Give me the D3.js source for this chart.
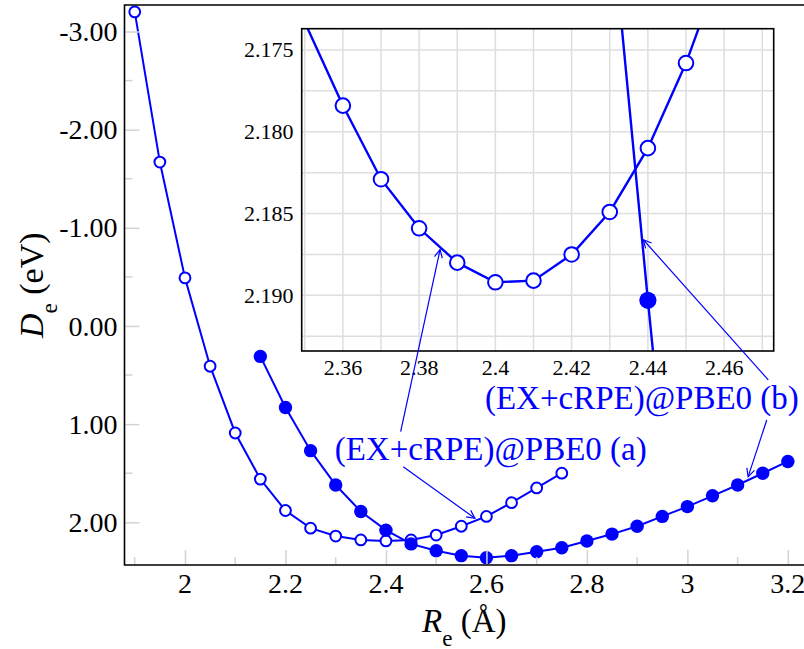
<!DOCTYPE html>
<html><head><meta charset="utf-8">
<style>
body { margin: 0; background: #fff; }
</style>
</head><body>
<svg width="804" height="649"></svg>
<script src="https://cdn.jsdelivr.net/npm/d3@7/dist/d3.min.js"></script>
<script>

// main panel: (EX+cRPE)@PBE0 (a) open, (b) filled
var rA = [1.90, 1.95, 2.00, 2.05, 2.10, 2.15, 2.20, 2.25, 2.30, 2.35, 2.40, 2.45, 2.50, 2.55, 2.60, 2.65, 2.70, 2.75];
var deA = [-3.20, -1.67, -0.49, 0.41, 1.09, 1.56, 1.88, 2.06, 2.14, 2.18, 2.19, 2.18, 2.13, 2.04, 1.94, 1.80, 1.65, 1.50];

var rB = [2.15, 2.20, 2.25, 2.30, 2.35, 2.40, 2.45, 2.50, 2.55, 2.60, 2.65, 2.70, 2.75, 2.80, 2.85, 2.90, 2.95, 3.00, 3.05, 3.10, 3.15, 3.20];
var deB = [0.31, 0.83, 1.27, 1.62, 1.89, 2.08, 2.22, 2.29, 2.34, 2.36, 2.34, 2.30, 2.26, 2.19, 2.12, 2.04, 1.94, 1.84, 1.73, 1.62, 1.50, 1.38];

// inset (zoom around the minimum)
var zrA = [2.35, 2.36, 2.37, 2.38, 2.39, 2.40, 2.41, 2.42, 2.43, 2.44, 2.45, 2.46];
var zdeA = [2.1733, 2.1784, 2.1829, 2.1859, 2.1880, 2.1892, 2.1891, 2.1875, 2.1849, 2.1810, 2.1758, 2.1694];
var zrB = [2.43, 2.44, 2.45];
var zdeB = [2.1659, 2.1903, 2.2136];

var xTicks = [2, 2.2, 2.4, 2.6, 2.8, 3, 3.2];
var yTicks = [-3, -2, -1, 0, 1, 2];
var zxTicks = [2.36, 2.38, 2.40, 2.42, 2.44, 2.46];
var zyTicks = [2.175, 2.180, 2.185, 2.190];

var labels = ["(EX+cRPE)@PBE0 (a)", "(EX+cRPE)@PBE0 (b)"];

var blue = "#0000ff", tickGray = "#d4d4d4", gridGray = "#dedede";
var serif = "'Liberation Serif'";

var svg = d3.select("svg");

var x = d3.scaleLinear().domain([1.8796, 3.26]).range([124.5, 818]);
var y = d3.scaleLinear().domain([-3.27, 2.435]).range([5, 565]);

var zx = d3.scaleLinear().domain([2.3492, 2.473]).range([301.7, 773.7]);
var zy = d3.scaleLinear().domain([2.1737, 2.1934]).range([28.7, 351]);

function series(g, xs, ys, sx, sy, filled, r, lw) {
  var pts = xs.map(function(d, i) { return [d, ys[i]]; });
  g.append("path")
      .datum(pts)
      .attr("fill", "none")
      .attr("stroke", blue)
      .attr("stroke-width", lw)
      .attr("d", d3.line().x(function(d) { return sx(d[0]); }).y(function(d) { return sy(d[1]); }));
  var dx = sx.domain(), dy = sy.domain();
  g.selectAll(null)
      .data(pts.filter(function(d) { return d[0] >= dx[0] && d[0] <= dx[1] && d[1] >= dy[0] && d[1] <= dy[1]; }))
    .enter().append("circle")
      .attr("cx", function(d) { return sx(d[0]); })
      .attr("cy", function(d) { return sy(d[1]); })
      .attr("r", r)
      .attr("fill", filled ? blue : "#fff")
      .attr("stroke", blue)
      .attr("stroke-width", filled ? 0 : 2);
}

// ---- main panel
var main = svg.append("g");
series(main, rA, deA, x, y, false, 5.4, 2);
series(main, rB, deB, x, y, true, 6.7, 2);

// inward ticks drawn over the data
var ax = svg.append("g").attr("transform", "translate(0,565)")
    .call(d3.axisBottom(x).tickValues(xTicks).tickSize(0).tickPadding(0).tickFormat(d3.format("")));
ax.select(".domain").remove();
ax.selectAll("text").remove();
ax.selectAll(".tick line").attr("y2", -15).attr("stroke", tickGray).attr("stroke-width", 1.5);
svg.append("g").selectAll("line").data(d3.range(1.9, 3.26, 0.2))
  .enter().append("line")
    .attr("x1", function(d) { return x(d); }).attr("x2", function(d) { return x(d); })
    .attr("y1", 565).attr("y2", 557)
    .attr("stroke", tickGray).attr("stroke-width", 1.5);

var ay = svg.append("g").attr("transform", "translate(124.5,0)")
    .call(d3.axisLeft(y).tickValues(yTicks).tickSize(0));
ay.select(".domain").remove();
ay.selectAll("text").remove();
ay.selectAll(".tick line").attr("x2", 15).attr("stroke", tickGray).attr("stroke-width", 1.5);
svg.append("g").selectAll("line").data([-2.5, -1.5, -0.5, 0.5, 1.5])
  .enter().append("line")
    .attr("x1", 124.5).attr("x2", 132.5)
    .attr("y1", function(d) { return y(d); }).attr("y2", function(d) { return y(d); })
    .attr("stroke", tickGray).attr("stroke-width", 1.5);

// frame
svg.append("path")
    .attr("d", "M818,5H124.5V565H818")
    .attr("fill", "none").attr("stroke", "#000").attr("stroke-width", 1.6);

// tick labels
svg.append("g").selectAll("text").data(xTicks).enter().append("text")
    .attr("x", function(d) { return x(d); }).attr("y", 593)
    .attr("text-anchor", "middle").attr("font-size", 28)
    .style("font-family", serif)
    .text(d3.format(""));
svg.append("g").selectAll("text").data(yTicks).enter().append("text")
    .attr("x", 117.5).attr("y", function(d) { return y(d); })
    .attr("dy", "0.34em")
    .attr("text-anchor", "end").attr("font-size", 28)
    .style("font-family", serif)
    .text(function(d) { return d3.format(".2f")(d).replace("−", "-"); });

// axis titles
var xt = svg.append("text").attr("x", 422).attr("y", 631.5).attr("font-size", 33).style("font-family", serif);
xt.append("tspan").attr("font-style", "italic").text("R");
xt.append("tspan").attr("font-size", 23).attr("dy", 14).text("e");
xt.append("tspan").attr("dy", -14).text(" (Å)");

var yt = svg.append("text").attr("transform", "translate(43,338) rotate(-90)").attr("font-size", 34).style("font-family", serif);
yt.append("tspan").attr("font-style", "italic").text("D");
yt.append("tspan").attr("font-size", 23).attr("dy", 14).text("e");
yt.append("tspan").attr("dy", -14).text(" (eV)");

// ---- inset
svg.append("rect")
    .attr("x", zx.range()[0]).attr("y", zy.range()[0])
    .attr("width", zx.range()[1] - zx.range()[0]).attr("height", zy.range()[1] - zy.range()[0])
    .attr("fill", "#fff");

svg.append("defs").append("clipPath").attr("id", "zclip").append("rect")
    .attr("x", zx.range()[0]).attr("y", zy.range()[0])
    .attr("width", zx.range()[1] - zx.range()[0]).attr("height", zy.range()[1] - zy.range()[0]);

var inset = svg.append("g").attr("clip-path", "url(#zclip)");
inset.append("g").selectAll("line").data(d3.range(2.35, 2.4701, 0.01))
  .enter().append("line")
    .attr("x1", function(d) { return zx(d); }).attr("x2", function(d) { return zx(d); })
    .attr("y1", zy.range()[0]).attr("y2", zy.range()[1])
    .attr("stroke", gridGray).attr("stroke-width", 1.5);
inset.append("g").selectAll("line").data(d3.range(2.175, 2.1931, 0.0025))
  .enter().append("line")
    .attr("x1", zx.range()[0]).attr("x2", zx.range()[1])
    .attr("y1", function(d) { return zy(d); }).attr("y2", function(d) { return zy(d); })
    .attr("stroke", gridGray).attr("stroke-width", 1.5);

series(inset, zrA, zdeA, zx, zy, false, 7.3, 2.4);
series(inset, zrB, zdeB, zx, zy, true, 8.6, 2.4);

svg.append("rect")
    .attr("x", zx.range()[0]).attr("y", zy.range()[0])
    .attr("width", zx.range()[1] - zx.range()[0]).attr("height", zy.range()[1] - zy.range()[0])
    .attr("fill", "none").attr("stroke", "#000").attr("stroke-width", 1.6);

svg.append("g").selectAll("text").data(zxTicks).enter().append("text")
    .attr("x", function(d) { return zx(d); }).attr("y", 375)
    .attr("text-anchor", "middle").attr("font-size", 22)
    .style("font-family", serif)
    .text(d3.format(""));
svg.append("g").selectAll("text").data(zyTicks).enter().append("text")
    .attr("x", 293.5).attr("y", function(d) { return zy(d); })
    .attr("dy", "0.34em")
    .attr("text-anchor", "end").attr("font-size", 22)
    .style("font-family", serif)
    .text(d3.format(".3f"));

// ---- annotations
svg.append("g").selectAll("text")
    .data([[2.298, 1.365, labels[0]], [2.597, 0.846, labels[1]]])
  .enter().append("text")
    .attr("x", function(d) { return x(d[0]); })
    .attr("y", function(d) { return y(d[1]); })
    .attr("font-size", 33).attr("fill", blue)
    .style("font-family", serif)
    .text(function(d) { return d[2]; });

svg.select("defs").append("marker")
    .attr("id", "head").attr("viewBox", "-10 -6 12 12")
    .attr("markerWidth", 12).attr("markerHeight", 12)
    .attr("markerUnits", "userSpaceOnUse")
    .attr("orient", "auto")
  .append("path")
    .attr("d", "M-8,-4L0,0L-8,4")
    .attr("fill", "none").attr("stroke", blue).attr("stroke-width", 1.2);

// [from (main coords), to, target in inset?]
var arrows = [
  [[2.4293, 1.077], [2.3855, 2.1872], true],
  [[2.4344, 1.433], [2.577, 1.959], false],
  [[3.161, 0.55], [2.4388, 2.1866], true],
  [[3.158, 0.958], [3.121, 1.535], false]
];
svg.append("g").selectAll("line").data(arrows).enter().append("line")
    .attr("x1", function(d) { return x(d[0][0]); })
    .attr("y1", function(d) { return y(d[0][1]); })
    .attr("x2", function(d) { return d[2] ? zx(d[1][0]) : x(d[1][0]); })
    .attr("y2", function(d) { return d[2] ? zy(d[1][1]) : y(d[1][1]); })
    .attr("stroke", blue).attr("stroke-width", 1.2)
    .attr("marker-end", "url(#head)");

</script>
</body></html>
